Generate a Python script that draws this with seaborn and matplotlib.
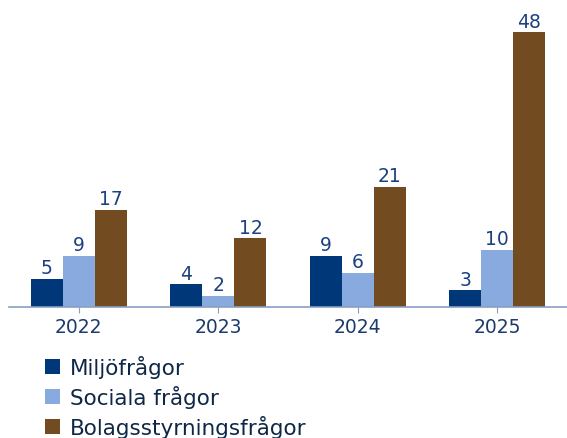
import pandas as pd
import matplotlib.pyplot as plt
import seaborn as sns
from matplotlib.patches import Patch

years = ['2022', '2023', '2024', '2025']
miljo = [5, 4, 9, 3]
sociala = [9, 2, 6, 10]
bolag = [17, 12, 21, 48]
series = ['Miljöfrågor', 'Sociala frågor', 'Bolagsstyrningsfrågor']
colors = ['#003778', '#88aadf', '#724b20']

# long-form table for seaborn
df = pd.DataFrame({
    'year': years * 3,
    'value': miljo + sociala + bolag,
    'serie': [s for s in series for _ in years],
})

sns.set_style('white')
plt.rcParams['font.family'] = ['DejaVu Sans']

fig = plt.figure(figsize=(5.67, 4.39), dpi=100)
ax = fig.add_axes([0.016, 0.298, 0.984, 0.653])

sns.barplot(data=df, x='year', y='value', hue='serie', palette=colors,
            width=0.69, saturation=1, legend=False, linewidth=0, ax=ax)

for c in ax.containers:
    ax.bar_label(c, fontsize=13.5, color='#1c4080', padding=1)

ax.set_ylim(0, 50)
ax.set_xlim(-0.5, 3.5)
ax.set_xlabel('')
ax.set_ylabel('')
ax.set_yticks([])
for s in ['top', 'right', 'left']:
    ax.spines[s].set_visible(False)
ax.spines['bottom'].set_color('#8a9fc2')
ax.spines['bottom'].set_linewidth(1.2)
ax.tick_params(axis='x', length=4, color='#8a9fc2', labelsize=13.5,
               labelcolor='#1c3a6e', pad=3, bottom=True)

handles = [Patch(color=c, linewidth=0) for c in colors]
fig.legend(handles, series, loc='upper left', bbox_to_anchor=(0.079, 0.19),
           frameon=False, fontsize=15.5, labelcolor='#0f2747',
           handlelength=0.7, handleheight=0.7, handletextpad=0.45,
           labelspacing=0.34, borderaxespad=0, borderpad=0)

fig.savefig('out.png', dpi=100)
